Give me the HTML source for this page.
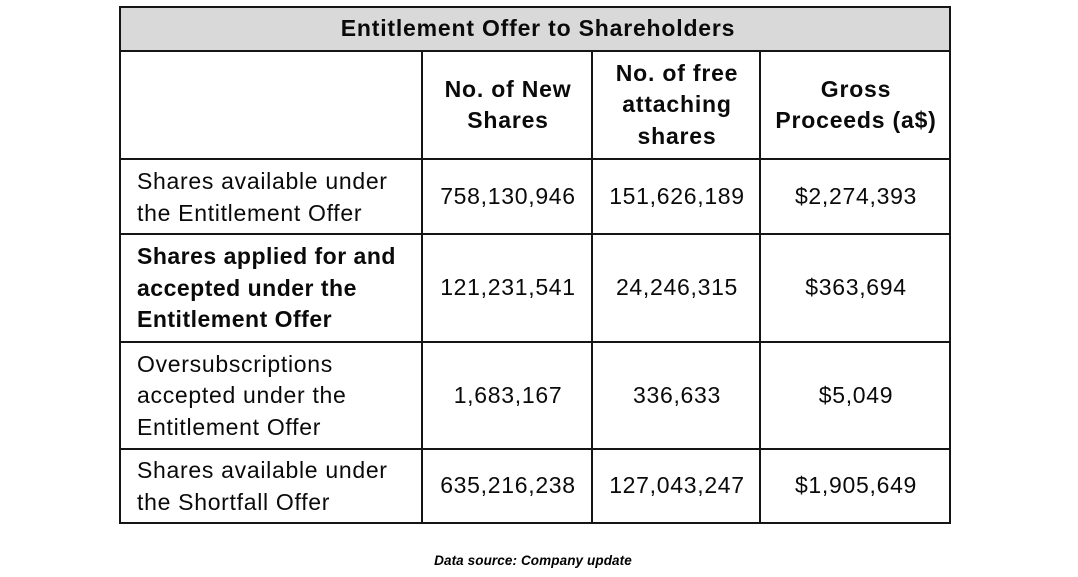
<!DOCTYPE html>
<html>
<head>
<meta charset="utf-8">
<style>
  html, body { margin:0; padding:0; background:#fff; }
  body { width:1078px; height:577px; position:relative; overflow:hidden;
         font-family:"Liberation Sans", Arial, sans-serif; color:#0a0a0a; }
  .h { position:absolute; height:2px; background:#151515; }
  .v { position:absolute; width:2px; background:#151515; }
  .cell { position:absolute; display:flex; align-items:center; box-sizing:border-box;
          font-size:23px; letter-spacing:0.7px; line-height:31.5px; }
  .c { justify-content:center; text-align:center; }
  .l { justify-content:flex-start; padding-left:16px; text-align:left; }
  .b { font-weight:bold; letter-spacing:0.8px; }
  .lb { font-weight:bold; letter-spacing:0.5px; }
</style>
</head>
<body>
  <div style="position:absolute;left:120px;top:7px;width:830px;height:44px;background:#d9d9d9;"></div>

  <div class="h" style="left:119px;top:6px;width:832px;"></div>
  <div class="h" style="left:119px;top:50px;width:832px;"></div>
  <div class="h" style="left:119px;top:158px;width:832px;"></div>
  <div class="h" style="left:119px;top:233px;width:832px;"></div>
  <div class="h" style="left:119px;top:341px;width:832px;"></div>
  <div class="h" style="left:119px;top:448px;width:832px;"></div>
  <div class="h" style="left:119px;top:522px;width:832px;"></div>

  <div class="v" style="left:119px;top:6px;height:518px;"></div>
  <div class="v" style="left:949px;top:6px;height:518px;"></div>
  <div class="v" style="left:421px;top:50px;height:474px;"></div>
  <div class="v" style="left:591px;top:50px;height:474px;"></div>
  <div class="v" style="left:759px;top:50px;height:474px;"></div>

  <div class="cell c b" style="left:124px;top:8px;width:828px;height:42px;">Entitlement Offer to Shareholders</div>

  <div class="cell c b" style="left:423px;top:52px;width:170px;height:106px;">No. of New<br>Shares</div>
  <div class="cell c b" style="left:593px;top:52px;width:168px;height:106px;">No. of free<br>attaching<br>shares</div>
  <div class="cell c b" style="left:761px;top:52px;width:190px;height:106px;">Gross<br>Proceeds (a$)</div>

  <div class="cell l" style="left:121px;top:160px;width:300px;height:75px;">Shares available under<br>the Entitlement Offer</div>
  <div class="cell c" style="left:423px;top:160px;width:170px;height:73px;">758,130,946</div>
  <div class="cell c" style="left:593px;top:160px;width:168px;height:73px;">151,626,189</div>
  <div class="cell c" style="left:761px;top:160px;width:190px;height:73px;">$2,274,393</div>

  <div class="cell l lb" style="left:121px;top:235px;width:300px;height:107px;">Shares applied for and<br>accepted under the<br>Entitlement Offer</div>
  <div class="cell c" style="left:423px;top:235px;width:170px;height:106px;">121,231,541</div>
  <div class="cell c" style="left:593px;top:235px;width:168px;height:106px;">24,246,315</div>
  <div class="cell c" style="left:761px;top:235px;width:190px;height:106px;">$363,694</div>

  <div class="cell l" style="left:121px;top:343px;width:300px;height:106px;">Oversubscriptions<br>accepted under the<br>Entitlement Offer</div>
  <div class="cell c" style="left:423px;top:343px;width:170px;height:105px;">1,683,167</div>
  <div class="cell c" style="left:593px;top:343px;width:168px;height:105px;">336,633</div>
  <div class="cell c" style="left:761px;top:343px;width:190px;height:105px;">$5,049</div>

  <div class="cell l" style="left:121px;top:450px;width:300px;height:73px;">Shares available under<br>the Shortfall Offer</div>
  <div class="cell c" style="left:423px;top:450px;width:170px;height:72px;">635,216,238</div>
  <div class="cell c" style="left:593px;top:450px;width:168px;height:72px;">127,043,247</div>
  <div class="cell c" style="left:761px;top:450px;width:190px;height:72px;">$1,905,649</div>

  <div style="position:absolute;left:333px;top:552px;width:400px;text-align:center;font-size:13.5px;font-weight:bold;font-style:italic;line-height:18px;letter-spacing:0.1px;color:#000;">Data source: Company update</div>
</body>
</html>
